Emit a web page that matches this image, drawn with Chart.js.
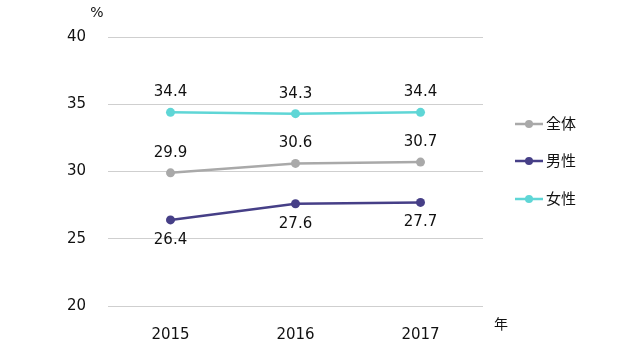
<!DOCTYPE html>
<html>
<head>
<meta charset="utf-8">
<script src="https://cdn.jsdelivr.net/npm/chart.js@4"></script>
<style>
  html, body { margin: 0; padding: 0; background: #fff; }
  #wrap { width: 640px; height: 350px; }
</style>
</head>
<body>
<div id="wrap"><canvas id="c" width="640" height="350"></canvas></div>
<script>
const years = ['2015', '2016', '2017'];
const seriesNames = ['全体', '男性', '女性'];
const totalVals = [29.9, 30.6, 30.7];
const maleVals = [26.4, 27.6, 27.7];
const femaleVals = [34.4, 34.3, 34.4];
const yTicks = [20, 25, 30, 35, 40];

const FONT = "'DejaVu Sans', 'Noto Sans CJK JP', sans-serif";
const COLORS = ['#a9a9a9', '#463f87', '#5fd6d6'];
const LABEL_POS = ['above', 'below', 'above'];

const mk = (i, data) => ({
  label: seriesNames[i],
  data,
  borderColor: COLORS[i],
  backgroundColor: COLORS[i],
  borderWidth: 2.5,
  pointRadius: 4.5,
  pointHoverRadius: 4.5,
  pointBorderWidth: 0,
  tension: 0,
});

// value labels, units and the legend on the right
const extras = {
  id: 'extras',
  afterDatasetsDraw(chart) {
    const ctx = chart.ctx;
    ctx.save();
    ctx.font = '15px ' + FONT;
    ctx.fillStyle = '#111';
    ctx.textAlign = 'center';
    ctx.textBaseline = 'middle';
    chart.data.datasets.forEach((ds, i) => {
      chart.getDatasetMeta(i).data.forEach((pt, j) => {
        const dy = LABEL_POS[i] === 'above' ? -20 : 20;
        ctx.fillText(ds.data[j].toFixed(1), pt.x, pt.y + dy);
      });
    });

    // units
    ctx.font = '14px ' + FONT;
    ctx.fillText('%', 97, 13);
    ctx.fillText('年', 501, 325);

    // legend
    ctx.font = '15px ' + FONT;
    ctx.textAlign = 'left';
    const ys = [124, 161, 199];
    chart.data.datasets.forEach((ds, i) => {
      const y = ys[i];
      ctx.strokeStyle = ds.borderColor;
      ctx.lineWidth = 2.5;
      ctx.beginPath();
      ctx.moveTo(515, y);
      ctx.lineTo(543, y);
      ctx.stroke();
      ctx.fillStyle = ds.borderColor;
      ctx.beginPath();
      ctx.arc(529, y, 4, 0, Math.PI * 2);
      ctx.fill();
      ctx.fillStyle = '#111';
      ctx.fillText(ds.label, 546, y + 1);
    });
    ctx.restore();
  },
};

new Chart(document.getElementById('c'), {
  type: 'line',
  data: {
    labels: years,
    datasets: [mk(0, totalVals), mk(1, maleVals), mk(2, femaleVals)],
  },
  options: {
    responsive: false,
    animation: false,
    events: [],
    layout: { padding: { left: 0, right: 157, top: 37, bottom: 0 } },
    plugins: { legend: { display: false }, tooltip: { enabled: false } },
    scales: {
      x: {
        offset: true,
        grid: { display: false },
        border: { display: false },
        ticks: { color: '#111', font: { family: FONT, size: 15 }, padding: 12 },
        afterFit: s => { s.height = 44; },
      },
      y: {
        min: 20,
        max: 40,
        afterBuildTicks: s => { s.ticks = yTicks.map(v => ({ value: v })); },
        grid: { color: '#cfcfcf', lineWidth: 1, drawTicks: false },
        border: { display: false },
        ticks: { color: '#111', font: { family: FONT, size: 15 }, padding: 22 },
        afterFit: s => { s.width = 108; },
      },
    },
  },
  plugins: [extras],
});
</script>
</body>
</html>
